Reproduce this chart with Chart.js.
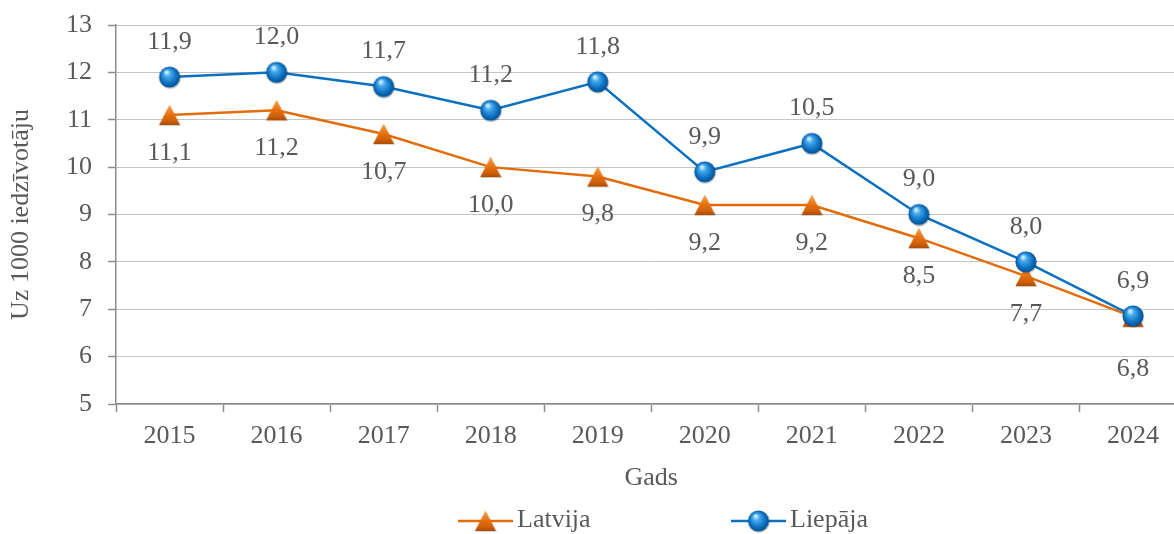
<!DOCTYPE html>
<html lang="lv">
<head>
<meta charset="utf-8">
<title>Uz 1000 iedzīvotāju</title>
<script src="https://cdn.jsdelivr.net/npm/chart.js@4.4.1/dist/chart.umd.min.js"></script>
<style>
  html, body { margin: 0; padding: 0; background: #fff; overflow: hidden; }
  #chart { display: block; }
</style>
</head>
<body>
<canvas id="chart" width="1200" height="534"></canvas>
<script>
// Data
const years = ['2015', '2016', '2017', '2018', '2019', '2020', '2021', '2022', '2023', '2024'];
const latvija = [11.1, 11.2, 10.7, 10.0, 9.8, 9.2, 9.2, 8.5, 7.7, 6.84];
const liepaja = [11.9, 12.0, 11.7, 11.2, 11.8, 9.9, 10.5, 9.0, 8.0, 6.86];
const yMin = 5;
const yMax = 13;
const yTitle = 'Uz 1000 iedzīvotāju';
const xTitle = 'Gads';

// Styles
const ORANGE = '#e36c0a';
const BLUE = '#0a70c0';
const TEXT = '#595959';
const GRID = '#c4c4c4';
const AXIS = '#8c8c8c';
const FONT = { family: "'Liberation Serif', 'Times New Roman', serif", size: 26 };
const FONT_CSS = "26px 'Liberation Serif', 'Times New Roman', serif";

// Marker images
function makeSphere() {
    const c = document.createElement('canvas');
    c.width = 24; c.height = 24;
    const g = c.getContext('2d');
    // soft shadow
    g.fillStyle = 'rgba(0,0,0,0.18)';
    g.beginPath(); g.arc(12.5, 13, 10.8, 0, Math.PI * 2); g.fill();
    const grad = g.createRadialGradient(9, 7, 1, 12, 12, 11);
    grad.addColorStop(0, '#c9ecff');
    grad.addColorStop(0.25, '#45a9ec');
    grad.addColorStop(0.7, '#0b6fc0');
    grad.addColorStop(1, '#034b88');
    g.fillStyle = grad;
    g.beginPath(); g.arc(12, 12, 10.5, 0, Math.PI * 2); g.fill();
    return c;
}

function makeTriangle() {
    const c = document.createElement('canvas');
    c.width = 24; c.height = 24;
    const g = c.getContext('2d');
    g.fillStyle = 'rgba(0,0,0,0.15)';
    g.beginPath(); g.moveTo(12.5, 2.5); g.lineTo(23.5, 23); g.lineTo(1.5, 23); g.closePath(); g.fill();
    const grad = g.createLinearGradient(0, 1, 0, 22);
    grad.addColorStop(0, '#f7a552');
    grad.addColorStop(0.55, '#e46d0c');
    grad.addColorStop(0.8, '#d0600a');
    grad.addColorStop(1, '#a84c06');
    g.fillStyle = grad;
    g.beginPath(); g.moveTo(12, 1.5); g.lineTo(22.5, 22); g.lineTo(1.5, 22); g.closePath(); g.fill();
    return c;
}

const sphereImg = makeSphere();
const triangleImg = makeTriangle();

const fmt = v => v.toFixed(1).replace('.', ',');

// Value labels: Liepāja above, Latvija below
const valueLabels = {
    id: 'valueLabels',
    afterDatasetsDraw(chart) {
        const ctx = chart.ctx;
        const metaLat = chart.getDatasetMeta(0);
        const metaLie = chart.getDatasetMeta(1);
        ctx.save();
        ctx.font = FONT_CSS;
        ctx.fillStyle = TEXT;
        ctx.textAlign = 'center';
        ctx.textBaseline = 'middle';
        metaLie.data.forEach((pt, i) => {
            ctx.fillText(fmt(liepaja[i]), pt.x, pt.y - 35);
        });
        metaLat.data.forEach((pt, i) => {
            // push further down where both markers overlap
            const extra = Math.abs(pt.y - metaLie.data[i].y) < 12 ? 14 : 0;
            ctx.fillText(fmt(latvija[i]), pt.x, pt.y + 38 + extra);
        });
        ctx.restore();
    }
};

// Legend with line + marker swatches
const lineLegend = {
    id: 'lineLegend',
    afterDraw(chart) {
        const ctx = chart.ctx;
        const items = [
            { text: 'Latvija', color: ORANGE, img: triangleImg, x: chart.chartArea.left + 342 },
            { text: 'Liepāja', color: BLUE, img: sphereImg, x: chart.chartArea.left + 615 }
        ];
        const y = 521;
        ctx.save();
        items.forEach(it => {
            ctx.strokeStyle = it.color;
            ctx.lineWidth = 2.5;
            ctx.beginPath();
            ctx.moveTo(it.x, y);
            ctx.lineTo(it.x + 55, y);
            ctx.stroke();
            ctx.drawImage(it.img, it.x + 27.5 - 12, y - 12);
            ctx.font = FONT_CSS;
            ctx.fillStyle = TEXT;
            ctx.textAlign = 'left';
            ctx.textBaseline = 'middle';
            ctx.fillText(it.text, it.x + 59, y - 1);
        });
        ctx.restore();
    }
};

const ctx = document.getElementById('chart').getContext('2d');
new Chart(ctx, {
    type: 'line',
    data: {
        labels: years,
        datasets: [
            {
                label: 'Latvija',
                data: latvija,
                borderColor: ORANGE,
                borderWidth: 2.5,
                pointStyle: triangleImg,
                pointRadius: 11,
                tension: 0,
                order: 2
            },
            {
                label: 'Liepāja',
                data: liepaja,
                borderColor: BLUE,
                borderWidth: 2.5,
                pointStyle: sphereImg,
                pointRadius: 11,
                tension: 0,
                order: 1
            }
        ]
    },
    options: {
        responsive: false,
        animation: false,
        devicePixelRatio: 1,
        layout: { padding: { top: 25, right: 11, bottom: 40, left: 0 } },
        plugins: {
            legend: { display: false },
            tooltip: { enabled: false }
        },
        scales: {
            x: {
                offset: true,
                grid: { offset: true, drawOnChartArea: false, tickLength: 8, tickColor: AXIS, tickWidth: 1.5 },
                border: { color: AXIS, width: 1.5 },
                ticks: { color: TEXT, font: FONT, padding: 9, maxRotation: 0, autoSkip: false },
                title: { display: true, text: xTitle, color: TEXT, font: FONT, padding: { top: 0, bottom: 0 } },
                afterFit: s => { s.height = 90; s.paddingLeft = 0; s.paddingRight = 0; }
            },
            y: {
                min: yMin,
                max: yMax,
                grid: { color: GRID, lineWidth: 1, tickLength: 8, tickColor: AXIS, tickWidth: 1.5 },
                border: { color: AXIS, width: 1.5 },
                ticks: { stepSize: 1, color: TEXT, font: FONT, padding: 16 },
                title: { display: true, text: yTitle, color: TEXT, font: FONT, padding: { top: 6, bottom: 0 } },
                afterFit: s => { s.width = 116; s.paddingTop = 0; s.paddingBottom = 0; }
            }
        }
    },
    plugins: [valueLabels, lineLegend]
});
</script>
</body>
</html>
